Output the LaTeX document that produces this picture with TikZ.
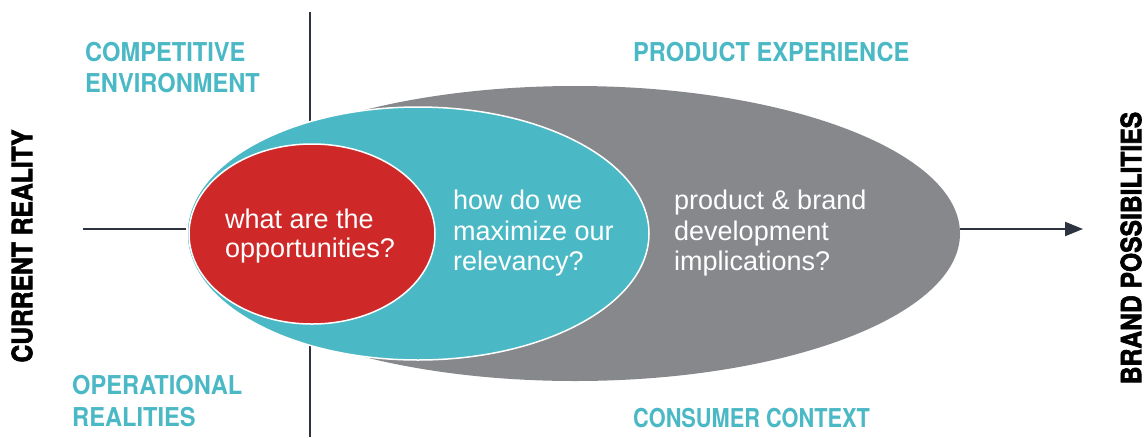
\documentclass[tikz,border=0pt]{standalone}
\usepackage{fontspec}
\setmainfont{Liberation Sans}
\newfontfamily\capsfont[FakeStretch=0.91]{TeX Gyre Heros}
\newfontfamily\heavyfont[FakeStretch=0.88,BoldFeatures={FakeBold=2.2}]{TeX Gyre Heros}
\usetikzlibrary{arrows.meta,shapes.geometric}
\pgfdeclarelayer{background}
\pgfsetlayers{background,main}

\definecolor{brandteal}{RGB}{75,185,197}
\definecolor{brandred}{RGB}{206,41,40}
\definecolor{brandgray}{RGB}{134,136,140}
\definecolor{lineink}{RGB}{46,51,64}

\tikzset{
  zone/.style={ellipse, inner sep=0pt},
  zonetext/.style={text=white, font=\fontsize{27}{30}\selectfont, anchor=base west, inner sep=0pt},
  cornerlabel/.style={text=brandteal, font=\capsfont\bfseries\fontsize{26}{30}\selectfont, anchor=base west, inner sep=0pt},
  axislabel/.style={text=black, font=\heavyfont\bfseries\fontsize{28}{30}\selectfont, rotate=90, inner sep=0pt},
  axisline/.style={draw=lineink, line width=2.2pt},
}

\begin{document}
\begin{tikzpicture}[x=1pt,y=-1pt]
\useasboundingbox (0,0) rectangle (1148,437);

% nested zones, largest first
\node[zone, fill=brandgray, minimum width=770pt, minimum height=295pt] (grayzone) at (575,233.5) {};
\node[zone, fill=brandteal, draw=white, line width=1.5pt, minimum width=462pt, minimum height=253pt] (tealzone) at (418,233.5) {};
\node[zone, fill=brandred, draw=white, line width=1.5pt, minimum width=246pt, minimum height=180pt] (redzone) at (312,234) {};

% quadrant axes
\coordinate (vtop) at (310,12);
\coordinate (vbot) at (310,437);
\coordinate (hstart) at (83,229);
\coordinate (hend) at (1083,229);
\begin{pgfonlayer}{background}
  \draw[axisline] (vtop) -- (vbot);
  \draw[axisline] (hstart) -- (hstart -| tealzone.west);
\end{pgfonlayer}
\draw[axisline, -{Triangle[length=18pt,width=14pt]}] (hend -| grayzone.east) -- (hend);

% zone questions
\node[zonetext] (red1) at (225,228) {what are the};
\node[zonetext] (red2) at (225,257) {opportunities?};
\node[zonetext] (teal1) at (453,209) {how do we};
\node[zonetext] (teal2) at (453,240) {maximize our};
\node[zonetext] (teal3) at (453,270) {relevancy?};
\node[zonetext] (gray1) at (674,209) {product \& brand};
\node[zonetext] (gray2) at (674,240) {development};
\node[zonetext] (gray3) at (674,270) {implications?};

% quadrant labels
\node[cornerlabel] (comp1) at (85,61) {COMPETITIVE};
\node[cornerlabel] (comp2) at (85,92) {ENVIRONMENT};
\node[cornerlabel] (oper1) at (72,394) {OPERATIONAL};
\node[cornerlabel] (oper2) at (72,426) {REALITIES};
\node[cornerlabel] (prod) at (633,61) {PRODUCT EXPERIENCE};
\node[cornerlabel] (cons) at (633,427) {\scalebox{0.92}[1]{CONSUMER CONTEXT}};

% axis titles
\node[axislabel] (current) at (22,246) {CURRENT REALITY};
\node[axislabel] (brand) at (1131,248) {BRAND POSSIBILITIES};
\end{tikzpicture}
\end{document}
